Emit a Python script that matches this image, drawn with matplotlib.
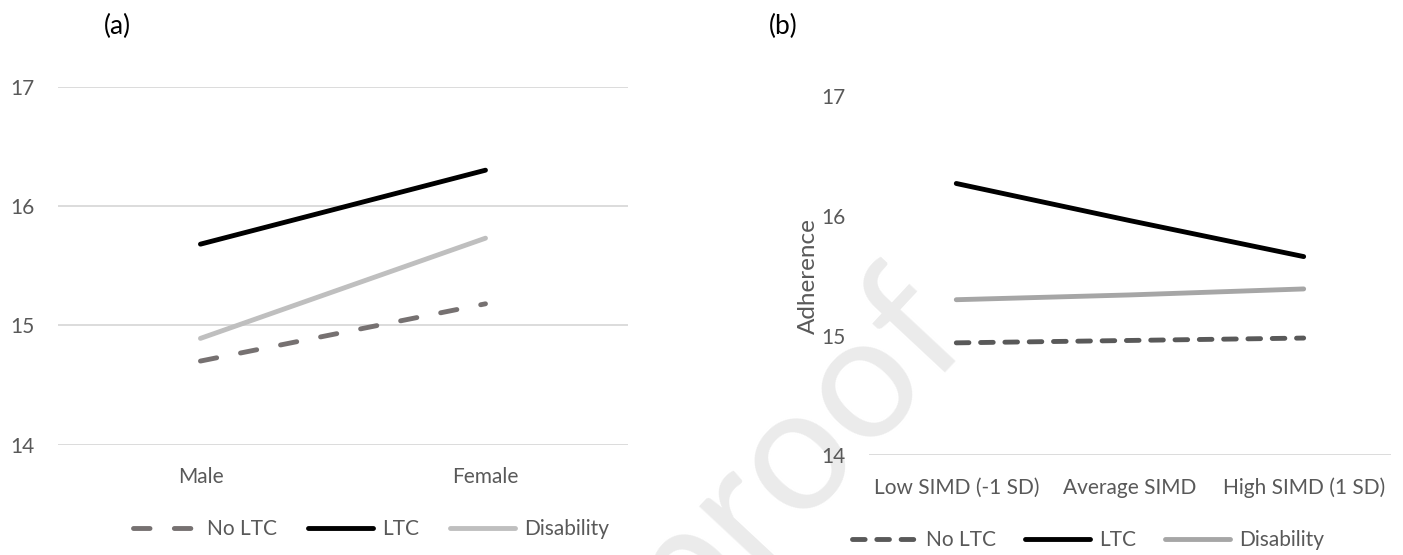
import matplotlib
matplotlib.use("Agg")
from matplotlib import pyplot as plt
from matplotlib.lines import Line2D

plt.rcParams['font.family'] = ['Lato', 'DejaVu Sans']

#Data for panel (a)
sex_labels = ['Male', 'Female']
a_no_ltc = [14.70, 15.18]
a_ltc = [15.68, 16.30]
a_disability = [14.89, 15.73]

#Data for panel (b)
simd_labels = ['Low SIMD (-1 SD)', 'Average SIMD', 'High SIMD (1 SD)']
b_no_ltc = [14.94, 14.96, 14.98]
b_ltc = [16.27, 15.96, 15.66]
b_disability = [15.30, 15.34, 15.39]

series_names = ['No LTC', 'LTC', 'Disability']
yticks = [14, 15, 16, 17]

txt_col = '#595959'
grid_col = '#d9d9d9'
lw = 3.5
fs = 15

fig = plt.figure(figsize=(14.03, 5.55), dpi=100)

#Watermark (behind everything)
fig.text(0.695, 0.385, 'Journal Pre-proof', fontsize=125, color='#ebebeb',
         rotation=47, rotation_mode='anchor', ha='right', va='baseline', zorder=-5)


def style_axes(ax, labels, gridlines):
    ax.set_ylim(14, 17)
    ax.set_xlim(0, len(labels))
    ax.set_yticks(yticks)
    ax.set_xticks([i + 0.5 for i in range(len(labels))])
    ax.set_xticklabels(labels)
    ax.tick_params(length=0, labelsize=fs, labelcolor=txt_col)
    ax.tick_params(axis='y', pad=17)
    ax.tick_params(axis='x', pad=16)
    for s in ax.spines.values():
        s.set_visible(False)
    ax.patch.set_alpha(0)
    if gridlines:
        for t in yticks:
            ax.axhline(t, color=grid_col, lw=1.3, zorder=1)
    else:
        ax.axhline(14, color=grid_col, lw=1.3, zorder=1)


#Panel (a)
ax1 = fig.add_axes([0.0413, 0.199, 0.4063, 0.6448])
style_axes(ax1, sex_labels, True)
xa = [0.5, 1.5]
ax1.plot(xa, a_no_ltc, color='#767171', lw=lw, dashes=(3.4, 5.0),
         dash_capstyle='round', solid_capstyle='round', zorder=3)
ax1.plot(xa, a_ltc, color='black', lw=lw, solid_capstyle='round', zorder=3)
ax1.plot(xa, a_disability, color='#bfbfbf', lw=lw, solid_capstyle='round', zorder=3)
fig.text(0.084, 0.953, '(a)', fontsize=19, color='black', ha='center', va='center')

leg_a = [Line2D([], [], color='#767171', lw=lw, dashes=(3.4, 5.0), dash_capstyle='round'),
         Line2D([], [], color='black', lw=lw, solid_capstyle='round'),
         Line2D([], [], color='#bfbfbf', lw=lw, solid_capstyle='round')]
fig.legend(leg_a, series_names, loc='center', bbox_to_anchor=(0.2645, 0.047), ncol=3,
           frameon=False, fontsize=fs, labelcolor=txt_col, handlelength=3.1,
           handletextpad=0.45, columnspacing=1.5)

#Panel (b)
ax2 = fig.add_axes([0.6197, 0.1793, 0.3714, 0.6477])
style_axes(ax2, simd_labels, False)
xb = [0.5, 1.5, 2.5]
ax2.plot(xb, b_no_ltc, color='#595959', lw=lw, dashes=(2.6, 2.4),
         dash_capstyle='round', solid_capstyle='round', zorder=3)
ax2.plot(xb, b_ltc, color='black', lw=lw, solid_capstyle='round', zorder=3)
ax2.plot(xb, b_disability, color='#a6a6a6', lw=lw, solid_capstyle='round', zorder=3)
ax2.set_ylabel('Adherence', fontsize=17.5, color=txt_col, labelpad=2)
fig.text(0.558, 0.953, '(b)', fontsize=19, color='black', ha='center', va='center')

leg_b = [Line2D([], [], color='#595959', lw=lw, dashes=(2.6, 2.4), dash_capstyle='round'),
         Line2D([], [], color='black', lw=lw, solid_capstyle='round'),
         Line2D([], [], color='#a6a6a6', lw=lw, solid_capstyle='round')]
fig.legend(leg_b, series_names, loc='center', bbox_to_anchor=(0.7755, 0.027), ncol=3,
           frameon=False, fontsize=fs, labelcolor=txt_col, handlelength=3.1,
           handletextpad=0.45, columnspacing=1.4)

fig.savefig('out.png', dpi=100)
